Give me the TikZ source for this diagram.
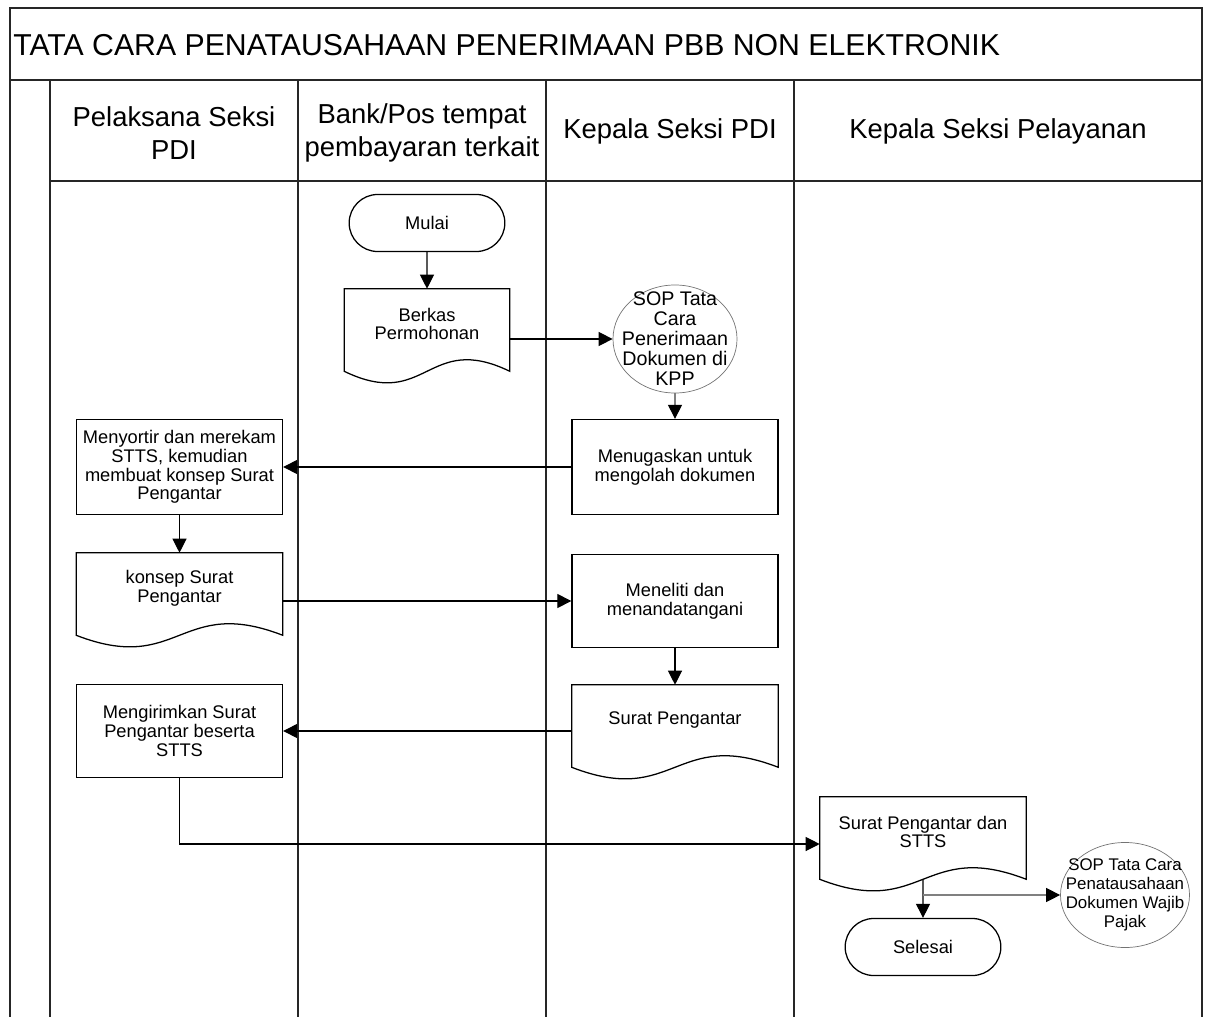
\documentclass[tikz,border=0pt]{standalone}
\usepackage{fontspec}
\setmainfont{Liberation Sans}
\usetikzlibrary{arrows.meta,shapes.geometric,shapes.misc}
\begin{document}
\begin{tikzpicture}[x=0.025cm,y=-0.025cm,frame line/.style={line width=1.2pt, black!85},lane title/.style={font=\fontsize{19.5}{23.5}\selectfont, align=center},step node/.style={draw, line width=0.9pt, minimum width=5.15cm, minimum height=2.375cm, align=center, inner sep=2pt, font=\fontsize{13}{13.3}\selectfont},end node/.style={draw, line width=0.9pt, rounded rectangle, minimum width=4.125cm, minimum height=1.425cm, font=\fontsize{13}{13.3}\selectfont},doc node/.style={minimum width=5.15cm, minimum height=1.75cm, align=center, inner sep=2pt, font=\fontsize{13}{13.3}\selectfont, append after command={\pgfextra{\let\docnode\tikzlastnode\draw[line width=0.9pt] ([yshift=-0.3cm]\docnode.south west) -- (\docnode.north west) -- (\docnode.north east) -- ([yshift=-0.3cm]\docnode.south east) .. controls ([yshift=0.7cm]\docnode.south) and ([yshift=-1.3cm]\docnode.south) .. cycle;}}},sop node/.style={ellipse, draw=black!55, line width=0.5pt, align=center, inner sep=-0.45cm},flow/.style={line width=0.8pt, -{Triangle[length=10pt,width=10pt]}},ref flow/.style={line width=0.8pt, gray, -{Triangle[length=10pt,width=10pt,color=black]}}]%
\path[use as bounding box] (0,0) rectangle (1208,1017);%
  % Frame and lanes%
\draw[frame line] (10,1017) -- (10,8) -- (1202,8) -- (1202,1017);%
\draw[frame line] (10,80) -- (1202,80);%
\draw[frame line] (50,181) -- (1202,181);%
\foreach \lx in {50,298,546,794} \draw[frame line] (\lx,80) -- (\lx,1017);%
\node[font=\fontsize{21.5}{26}\selectfont, anchor=west, inner sep=0pt] (title) at (13,45) {TATA CARA PENATAUSAHAAN PENERIMAAN PBB NON ELEKTRONIK};%
\node[lane title] (lane1) at (174,133) {Pelaksana Seksi\\PDI};%
\node[lane title] (lane2) at (422,133) {Bank/Pos tempat\\pembayaran terkait};%
\node[lane title] (lane3) at (670,131) {Kepala Seksi PDI};%
\node[lane title] (lane4) at (998,131) {Kepala Seksi Pelayanan};%
  % Bank/Pos%
\node[end node] (mulai) at (427,223) {Mulai};%
\node[doc node, minimum width=4.125cm] (berkas) at (427,324) {Berkas\\Permohonan};%
  % Kepala Seksi PDI%
\node[sop node, minimum width=3.1cm, minimum height=2.7cm, font=\fontsize{14}{14.2}\selectfont] (sop1) at (675,339) {SOP Tata\\Cara\\Penerimaan\\Dokumen di\\KPP};%
\node[step node] (menugaskan) at (675,467) {Menugaskan untuk\\mengolah dokumen};%
\node[step node, minimum height=2.325cm] (meneliti) at (675,601) {Meneliti dan\\menandatangani};%
\node[doc node] (surat) at (675,720) {Surat Pengantar};%
  % Pelaksana Seksi PDI%
\node[step node] (menyortir) at (179.5,467) {Menyortir dan merekam\\STTS, kemudian\\membuat konsep Surat\\Pengantar};%
\node[doc node] (konsep) at (179.5,588) {konsep Surat\\Pengantar};%
\node[step node, minimum height=2.325cm] (mengirim) at (179.5,731) {Mengirimkan Surat\\Pengantar beserta\\STTS};%
  % Kepala Seksi Pelayanan%
\node[doc node] (stts) at (923,832) {Surat Pengantar dan\\STTS};%
\node[end node] (selesai) at (923,947) {Selesai};%
\node[sop node, minimum width=3.225cm, minimum height=2.625cm, font=\fontsize{12}{13.5}\selectfont] (sop2) at (1125,895) {SOP Tata Cara\\Penatausahaan\\Dokumen Wajib\\Pajak};%
  % Connectors%
\draw[flow] (mulai) -- (berkas);%
\draw[flow] (sop1.west -| berkas.east) -- (sop1.west);%
\draw[ref flow] (sop1) -- (menugaskan);%
\draw[flow] (menugaskan) -- (menyortir);%
\draw[flow] (menyortir) -- (konsep);%
\draw[flow] (meneliti.west -| konsep.east) -- (meneliti.west);%
\draw[flow] (meneliti) -- (surat);%
\draw[flow] (mengirim.east -| surat.west) -- (mengirim.east);%
\draw[flow] (mengirim.south) |- ([yshift=-0.3cm]stts.west);%
\draw[flow] ([yshift=-0.3cm]stts.south) -- (selesai);%
\draw[ref flow] (sop2.west -| stts.south) -- (sop2.west);%
\end{tikzpicture}
\end{document}
